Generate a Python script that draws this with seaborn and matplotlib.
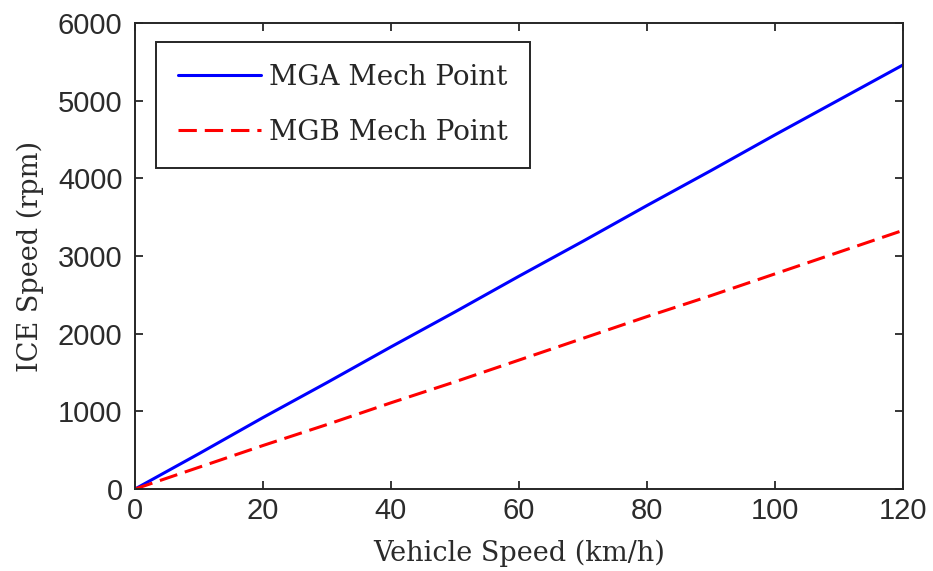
import matplotlib
matplotlib.use("Agg")
import matplotlib.pyplot as plt
import seaborn as sns
import pandas as pd

# Vehicle speed samples (km/h) and engine speed at the mechanical points (rpm)
speed_kmh = [0, 10, 20, 30, 40, 50, 60, 70, 80, 90, 100, 110, 120]
mga_rpm = [0, 455, 920, 1370, 1830, 2280, 2740, 3190, 3650, 4100, 4560, 5010, 5460]
mgb_rpm = [0, 280, 560, 830, 1110, 1380, 1660, 1940, 2220, 2490, 2770, 3050, 3330]
series_names = ["MGA Mech Point", "MGB Mech Point"]

df = pd.DataFrame({
    "speed": speed_kmh * 2,
    "rpm": mga_rpm + mgb_rpm,
    "series": [series_names[0]] * len(speed_kmh) + [series_names[1]] * len(speed_kmh),
})

sns.set_theme(style="white")
plt.rcParams["font.family"] = ["Liberation Sans", "DejaVu Sans"]

fig = plt.figure(figsize=(9.33, 5.71), dpi=100)
ax = fig.add_axes([0.1447, 0.1436, 0.8231, 0.8161])

sns.lineplot(data=df, x="speed", y="rpm", hue="series", style="series",
             palette=["#0000ff", "#ff0000"], dashes=[(None, None), (6, 2.6)],
             linewidth=2.2, ax=ax, legend=True)

ax.set_xlim(0, 120)
ax.set_ylim(0, 6000)
ax.set_xticks(range(0, 121, 20))
ax.set_yticks(range(0, 6001, 1000))

for s in ax.spines.values():
    s.set_visible(True)
    s.set_color("#262626")
    s.set_linewidth(1.4)

ax.tick_params(direction="in", length=6, width=1.3, colors="#262626",
               labelcolor="#2b2b2b", labelsize=21, top=True, right=True,
               left=True, bottom=True)
ax.tick_params(axis="x", pad=6)
ax.tick_params(axis="y", pad=9)

serif = ["DejaVu Serif"]
ax.set_xlabel("Vehicle Speed (km/h)", fontsize=19.5, family=serif, color="#2b2b2b", labelpad=10)
ax.set_ylabel("ICE Speed (rpm)", fontsize=19.5, family=serif, color="#2b2b2b", labelpad=10)

leg = ax.legend(loc="upper left", bbox_to_anchor=(0.0273, 0.959), frameon=True,
                fancybox=False, edgecolor="#262626", framealpha=1,
                prop={"family": serif, "size": 20}, handlelength=3.0,
                borderpad=0.78, labelspacing=1.02, handletextpad=0.3,
                borderaxespad=0)
leg.get_frame().set_linewidth(1.4)
for t in leg.get_texts():
    t.set_color("#262626")

fig.savefig("out.png", dpi=100)
